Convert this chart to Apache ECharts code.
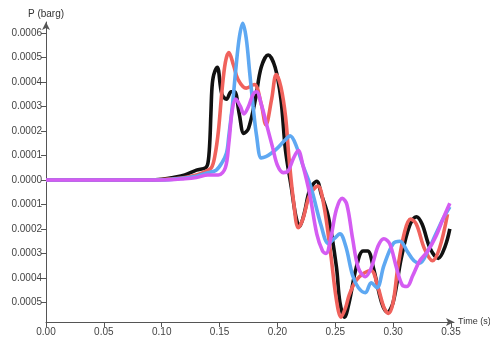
<!DOCTYPE html>
<html><head><meta charset="utf-8">
<script src="https://cdn.jsdelivr.net/npm/echarts@6/dist/echarts.min.js"></script>
<style>html,body{margin:0;padding:0;background:#fff}#c{width:490px;height:341px}</style>
</head><body><div id="c"></div>
<script>
// Time (s) / Pressure (barg) pairs
var blackData = [[0,0],[0.09,0],[0.10,0.000003],[0.11,0.00001],[0.12,0.00002],[0.13,0.00004],[0.138,0.00005],[0.140,0.00007],[0.1415,0.00015],[0.1425,0.00027],[0.1435,0.00038],[0.145,0.00043],[0.148,0.00046],[0.152,0.00035],[0.156,0.00033],[0.160,0.00036],[0.163,0.00036],[0.167,0.00027],[0.171,0.00019],[0.175,0.00021],[0.181,0.00033],[0.186,0.00046],[0.192,0.00051],[0.198,0.00046],[0.203,0.00033],[0.207,0.00012],[0.212,-0.00003],[0.216,-0.00015],[0.219,-0.00019],[0.223,-0.00014],[0.228,-0.00004],[0.234,-0.000005],[0.238,-0.00006],[0.244,-0.00015],[0.251,-0.000355],[0.254,-0.00050],[0.258,-0.00056],[0.262,-0.00050],[0.268,-0.00036],[0.274,-0.00029],[0.278,-0.00029],[0.283,-0.00036],[0.290,-0.00050],[0.295,-0.00054],[0.300,-0.00050],[0.307,-0.00032],[0.314,-0.00019],[0.320,-0.00015],[0.325,-0.00018],[0.332,-0.00028],[0.339,-0.00032],[0.345,-0.00027],[0.349,-0.00020]];
var redData = [[0,0],[0.09,0],[0.11,0.000005],[0.12,0.00001],[0.13,0.00002],[0.138,0.000035],[0.143,0.00005],[0.146,0.0001],[0.149,0.0002],[0.152,0.00036],[0.155,0.00048],[0.158,0.00052],[0.162,0.00047],[0.166,0.00041],[0.173,0.000375],[0.180,0.00039],[0.186,0.00031],[0.190,0.000225],[0.195,0.00033],[0.199,0.00043],[0.203,0.00038],[0.207,0.00026],[0.210,0.00009],[0.214,-0.00009],[0.218,-0.000195],[0.222,-0.00016],[0.228,-0.00006],[0.235,-0.000025],[0.240,-0.0001],[0.246,-0.0003],[0.251,-0.00049],[0.255,-0.00056],[0.259,-0.00052],[0.262,-0.00047],[0.268,-0.00041],[0.275,-0.00038],[0.281,-0.00037],[0.287,-0.00044],[0.292,-0.00052],[0.296,-0.000545],[0.300,-0.0005],[0.304,-0.00036],[0.310,-0.00021],[0.315,-0.00016],[0.320,-0.00018],[0.327,-0.00028],[0.334,-0.00033],[0.340,-0.00028],[0.347,-0.00014]];
var blueData = [[0,0],[0.10,0],[0.12,0.000008],[0.13,0.000015],[0.14,0.00003],[0.147,0.00004],[0.152,0.00007],[0.156,0.00011],[0.158,0.00018],[0.161,0.0003],[0.164,0.00045],[0.167,0.00058],[0.170,0.00064],[0.173,0.00058],[0.176,0.00044],[0.179,0.0003],[0.182,0.00018],[0.186,0.00009],[0.190,0.000095],[0.195,0.00011],[0.200,0.00013],[0.206,0.00016],[0.211,0.00018],[0.217,0.00013],[0.222,0.00006],[0.229,-0.00003],[0.238,-0.00019],[0.244,-0.00026],[0.249,-0.00024],[0.254,-0.00022],[0.259,-0.00027],[0.265,-0.00039],[0.270,-0.00044],[0.276,-0.00046],[0.281,-0.00042],[0.286,-0.00044],[0.292,-0.00035],[0.300,-0.00026],[0.306,-0.00025],[0.312,-0.00029],[0.318,-0.00033],[0.323,-0.00034],[0.330,-0.00029],[0.337,-0.00022],[0.343,-0.00016],[0.349,-0.00011]];
var magentaData = [[0,0],[0.10,0],[0.12,0.000005],[0.13,0.00001],[0.14,0.00002],[0.149,0.00002],[0.155,0.00005],[0.158,0.00015],[0.161,0.000286],[0.164,0.00033],[0.168,0.0003],[0.171,0.00027],[0.175,0.0003],[0.179,0.00035],[0.182,0.00036],[0.186,0.00031],[0.191,0.00022],[0.196,0.00013],[0.200,0.00006],[0.205,0.00003],[0.209,0.000035],[0.214,0.00009],[0.218,0.00012],[0.222,0.00006],[0.228,-0.00006],[0.234,-0.00022],[0.239,-0.00029],[0.242,-0.0003],[0.246,-0.00024],[0.251,-0.00012],[0.256,-0.000075],[0.260,-0.0001],[0.265,-0.00024],[0.270,-0.00036],[0.276,-0.000395],[0.281,-0.00036],[0.287,-0.00027],[0.292,-0.00024],[0.297,-0.00026],[0.303,-0.00036],[0.308,-0.00043],[0.312,-0.000435],[0.317,-0.00039],[0.323,-0.00033],[0.330,-0.00029],[0.337,-0.00023],[0.343,-0.00016],[0.349,-0.000095]];
var yTicks = [-0.0005,-0.0004,-0.0003,-0.0002,-0.0001,0,0.0001,0.0002,0.0003,0.0004,0.0005,0.0006];
var xTicks = [0,0.05,0.10,0.15,0.20,0.25,0.30,0.35];

var chart = echarts.init(document.getElementById('c'), null, {renderer:'canvas'});
var axisColor = '#555';
var lblStyle = {color:'#444', fontSize:10, fontFamily:'Liberation Sans, Arial, sans-serif'};
function ser(name, data, color){
  return {name:name, type:'line', data:data, smooth:0.35, showSymbol:false, symbol:'none',
    lineStyle:{color:color, width:3.6}, itemStyle:{color:color}, animation:false, z:2};
}
chart.setOption({
  animation:false,
  grid:{left:46, right:36, top:22, bottom:19, containLabel:false, outerBoundsMode:'none'},
  xAxis:{type:'value', min:0, max:0.3526, name:'Time (s)', nameLocation:'end', nameGap:4,
    nameTextStyle:Object.assign({}, lblStyle, {color:'#333', fontSize:9}),
    axisLine:{show:true, onZero:false, lineStyle:{color:axisColor, width:1}, symbol:['none','arrow'], symbolSize:[6,8], symbolOffset:[0,0]},
    axisTick:{show:true, length:5, lineStyle:{color:axisColor}, customValues:xTicks},
    axisLabel:Object.assign({margin:5, customValues:xTicks, formatter:function(v){return v.toFixed(2);}}, lblStyle),
    splitLine:{show:false}},
  yAxis:{type:'value', min:-0.00058, max:0.000645, name:'P (barg)', nameLocation:'end', nameGap:3,
    nameTextStyle:Object.assign({}, lblStyle, {color:'#333'}),
    axisLine:{show:true, onZero:false, lineStyle:{color:axisColor, width:1}, symbol:['none','arrow'], symbolSize:[6,8], symbolOffset:[0,0]},
    axisTick:{show:true, length:5, lineStyle:{color:axisColor}, customValues:yTicks},
    axisLabel:Object.assign({margin:4, customValues:yTicks, formatter:function(v){return Math.abs(v).toFixed(4);}}, lblStyle),
    splitLine:{show:false}},
  series:[
    ser('black', blackData, '#111111'),
    ser('red', redData, '#f0625c'),
    ser('blue', blueData, '#5ea8f2'),
    ser('magenta', magentaData, '#d45cf2')
  ]
});
</script></body></html>
